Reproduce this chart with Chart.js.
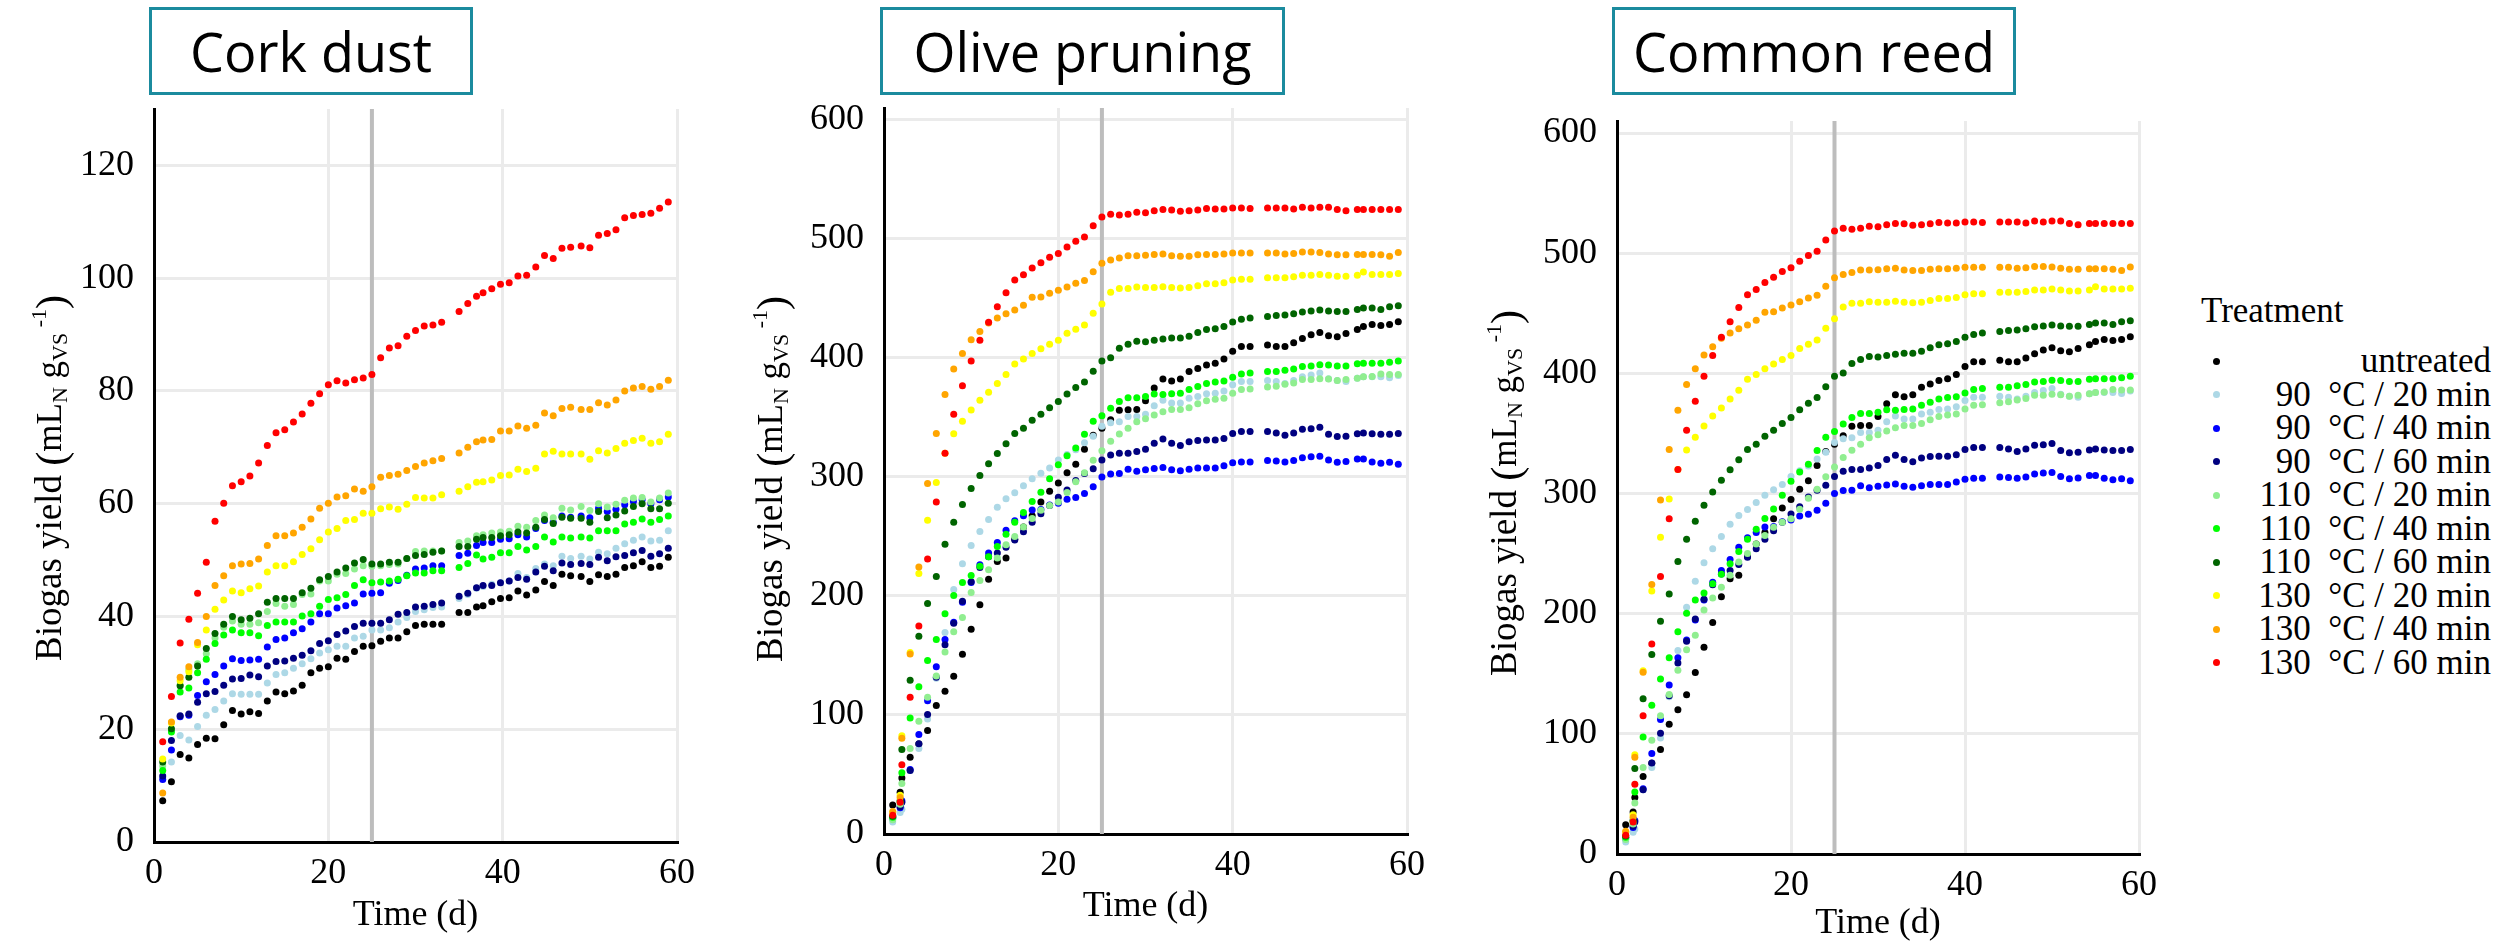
<!DOCTYPE html>
<html>
<head>
<meta charset="utf-8">
<script src="https://cdn.jsdelivr.net/npm/chart.js"></script>
<style>
html,body{margin:0;padding:0;background:#fff;}
body{width:2504px;height:947px;overflow:hidden;position:relative;}
canvas{position:absolute;top:0;}
.tbox{position:absolute;top:7px;height:88px;box-sizing:border-box;border:3px solid #1b8b9e;
  font-family:"Open Sans",sans-serif;font-size:54px;color:#000;display:flex;align-items:center;justify-content:center;}
.lg{position:absolute;font-family:"Liberation Serif",serif;color:#000;white-space:pre;}
.dot{position:absolute;width:7px;height:7px;border-radius:50%;}
</style>
</head>
<body>
<div class="tbox" style="left:149px;width:324px;">Cork dust</div>
<div class="tbox" style="left:880px;width:405px;">Olive pruning</div>
<div class="tbox" style="left:1612px;width:404px;">Common reed</div>
<canvas id="c1" width="720" height="947" style="left:0px"></canvas>
<canvas id="c2" width="730" height="947" style="left:720px"></canvas>
<canvas id="c3" width="730" height="947" style="left:1450px"></canvas>
<div id="legend"></div>
<script>
// ---------- labels & colours ----------
const treatmentLabels = ['untreated','90  °C / 20 min','90  °C / 40 min','90  °C / 60 min','110  °C / 20 min','110  °C / 40 min','110  °C / 60 min','130  °C / 20 min','130  °C / 40 min','130  °C / 60 min'];
const seriesColors = ['#000000','#add8e6','#0000ff','#000080','#90ee90','#00ff00','#006400','#ffff00','#ffa500','#ff0000'];
const xTickValues = [0,20,40,60];
const corkYTickValues = [0,20,40,60,80,100,120];
const oliveYTickValues = [0,100,200,300,400,500,600];
const reedYTickValues = [0,100,200,300,400,500,600];
const refDay = 25;

// ---------- Cork dust ----------
const corkDays = [1,2,3,4,5,6,7,8,9,10,11,12,13,14,15,16,17,18,19,20,21,22,23,24,25,26,27,28,29,30,31,32,33,35,36,37,37.75,38.75,39.75,40.75,41.75,42.75,43.8,44.8,45.8,46.8,47.8,49,50,51,52,53,54,55,56,57,58,59];
const corkUntreated = [7.3,10.7,15.5,14.9,17.3,18.4,18.3,20.8,23.3,22.7, 23.1,22.8,25.0,26.6,26.3,26.8,27.8,30.0,30.8,31.1, 32.6,32.4,33.8,34.7,34.8,35.6,36.2,36.2,37.3,38.4, 38.6,38.6,38.6, 40.7,40.7,41.7, 41.9,42.6,43.2,43.3,44.5,43.8, 44.7,46.2,45.5,47.5,47.2, 47.1,46.2,47.4,47.1,47.5,48.7,49.0,49.7,48.7,48.9,50.5];
const cork90_20 = [11.5,14.2,18.9,18.1,20.5,22.5,23.5,25.0,26.3,26.2, 26.2,26.2,28.2,29.7,30.0,30.8,31.6,32.5,33.5,34.1, 34.7,34.7,36.2,36.5,37.6,37.6,38.0,39.0,39.8,40.9, 41.2,41.6,41.7, 43.2,43.9,45.0, 45.3,45.7,46.0,46.3,47.6,46.9, 48.5,49.3,49.0,50.7,50.3, 50.7,50.2,51.4,51.1,52.1,52.9,53.5,54.1,53.4,53.5,55.2];
const cork90_40 = [11.1,16.3,22.2,22.5,26.0,28.4,29.7,31.2,32.5,32.2, 32.3,32.4,34.6,35.9,36.2,37.1,37.8,39.0,40.5,40.5, 41.5,41.9,42.4,44.0,44.1,44.2,45.9,46.4,47.3,48.4, 48.6,49.0,49.0, 50.8,51.2,52.6, 53.1,53.1,53.7,53.8,54.5,54.1, 55.6,57.0,56.7,57.8,57.6, 57.8,57.5,59.2,58.6,59.0,59.8,60.4,60.7,60.0,60.7,61.2];
const cork90_60 = [11.7,18.0,22.4,22.7,24.8,26.3,26.7,27.8,28.9,29.0, 29.6,29.3,31.2,32.0,32.1,32.6,33.1,33.9,35.2,35.7, 36.8,37.4,38.2,38.8,38.8,38.8,39.4,40.4,40.7,41.7, 41.8,42.1,42.4, 43.6,44.1,45.1, 45.5,45.5,46.0,46.3,46.9,46.6, 47.9,48.9,48.1,49.5,49.2, 49.4,49.2,50.5,49.9,50.6,50.8,51.3,51.7,50.7,51.1,52.1];
const cork110_20 = [13.5,19.9,27.8,30.6,31.6,33.4,36.2,38.1,39.2,38.6, 38.6,38.9,40.9,42.3,41.8,42.1,43.9,44.0,46.3,46.3, 47.5,47.6,48.4,49.0,48.9,49.0,49.2,49.3,50.3,51.5, 51.6,51.6,51.6, 53.1,53.4,54.3, 54.5,54.8,55.0,55.1,56.0,55.8, 57.0,58.0,57.5,59.2,58.9, 59.5,58.8,60.0,59.4,59.9,60.6,61.0,61.1,60.3,61.0,61.9];
const cork110_40 = [12.7,19.5,26.6,27.3,30.0,32.4,35.2,36.7,37.6,37.1, 37.1,36.6,38.4,39.0,39.0,39.0,40.1,40.5,41.8,43.0, 43.3,43.9,45.5,46.5,46.0,46.1,46.3,46.6,47.2,47.7, 47.7,48.1,48.1, 48.7,49.4,50.9, 50.2,50.5,51.3,51.3,52.4,51.8, 52.4,54.1,53.2,54.1,53.9, 54.1,53.9,55.2,55.2,55.2,56.4,56.7,57.3,56.7,57.2,57.8];
const cork110_60 = [14.2,20.1,27.7,29.2,31.2,34.3,37.0,38.6,40.0,39.4, 39.7,40.5,42.5,43.2,43.2,43.2,44.2,45.0,46.5,47.1, 47.9,48.6,49.5,50.1,49.3,49.3,49.6,49.6,50.3,50.8, 51.0,51.4,51.6, 52.4,52.4,53.7, 54.0,54.0,54.3,54.5,55.0,54.8, 55.8,57.2,56.5,57.6,57.4, 57.4,56.7,58.6,57.5,58.0,58.7,59.5,60.0,59.1,59.1,60.1];
const cork130_20 = [14.7,21.1,28.6,30.2,35.0,37.6,41.3,42.9,44.5,44.2, 44.9,45.4,47.9,49.0,49.0,49.7,51.0,52.0,53.6,55.0, 55.6,57.0,57.2,58.3,58.3,59.1,59.4,59.0,59.9,61.1, 61.0,61.0,61.6, 62.2,63.0,63.8, 63.9,64.2,65.0,65.1,66.1,65.7, 66.3,68.8,69.3,68.8,68.8, 68.8,67.9,69.4,69.0,69.8,70.7,71.2,71.6,70.7,71.0,72.3];
const cork130_40 = [8.7,21.3,29.2,31.1,35.4,40.0,45.5,47.2,49.0,49.3, 49.4,50.2,52.6,54.3,54.3,54.8,55.8,57.3,59.2,60.1, 61.2,61.4,62.6,62.2,63.0,64.7,65.0,65.2,65.9,66.6, 67.2,67.6,68.0, 69.0,70.0,71.0, 71.3,71.4,72.9,72.9,73.8,73.4, 73.9,76.1,75.6,76.9,77.1, 76.7,76.7,77.9,77.5,78.4,80.0,80.5,80.8,80.3,80.8,81.9];
const cork130_60 = [17.8,25.8,35.3,39.5,44.1,49.6,56.9,60.1,63.2,63.9, 64.9,67.2,70.3,72.6,73.1,74.5,75.9,77.8,79.5,81.1, 81.8,81.4,82.0,82.3,82.9,85.9,87.6,88.0,89.7,90.7, 91.5,91.7,92.2, 94.1,95.5,96.8, 97.4,98.1,98.9,99.2,100.4,100.5, 102.0,104.0,103.5,105.3,105.5, 105.7,105.4,107.6,107.9,108.6,110.7,111.1,111.3,111.5,112.4,113.5];
const corkYMax = 130;

// ---------- Olive pruning (the Common reed panel shows the same values) ----------
const oliveDays = [1,1.85,2.05,3,4,5,6,7,8,9,10,11,12,13,14,15,16,17,18,19,20,21,22,23,24,25,26,27,28,29,30,31,32,33,34,35,36,37,38,39,40,41,42,44,45,46,47,48,49,50,51,52,53,54.3,55,56,57,58,59];
const oliveUntreated = [24.4,35,47, 64.5,75.6,87,108,120,132.6,151,172,192.6,214, 229,232,247.6,258,267.5,279,288,295,303.6,310.7, 323.3,335,341,348,356,356.5,356.6, 364,374.7,382.2,380.6,382.2,388.5,391.2,394,395.5,399,405.7,409.7,409.7, 410.9,409.7,409.7,412.8,416.3,419.5,421.4,418.7,417.9,420.6, 423.8, 426.5,428.1,427.3,428.1,430.5];
const olive90_20 = [10,18,20.8, 53.4,71.9,96.6,130.8,169.3,205.4,227,242.3,254.1,264.3, 274.5,281.6,286.7,292.6,298.5,303.2,307.5,314.2,318.9,322.9, 328.8,334.3,342.5,345.6,346.4,350.7,350.7, 352.7,359.8,364.5,362.1,362.1,366.1,367.6,370,370.4,372.3,377.5,380.2,380.2, 381,380.2,378.6,381,384.1,385.7,387.3,382.6,381,380.2, 383, 384.1,384.1,384.1,383.3,385.3];
const olive90_40 = [13,22,27.9, 54.2,83.7,112,140.6,163.4,178,194.8,211.3,226.2,236, 245,255.3,263.2,267.5,272.2,272.6,276.5,278,281.2,282.8, 286,291.8,300,302.4,302.8,306.4,304.8, 306,307.1,307.9,306,305.2,306.4,307.5,307.5,307.5,309.5,311.9,312.6,312.6, 313.8,313.4,312.6,313.8,316.2,317,317.4,314.2,312.3,313, 315, 315,312.6,311.5,312.3,310.7];
const olive90_60 = [14,23,26.7, 53.4,75.8,100.5,131.6,159,177,195.6,212,224,233, 236,241,247,254,262,269,276,283,289,297, 302.8,306.8,314.2,318.5,320,320,321.3, 323.3,328.4,331.9,328.4,326.4,329.5,330.7,331.1,331.1,332.3,336.6,338.2,338.2, 338.2,337,335,337,340.1,340.5,341.7,335.8,333.9,334.3, 336.2, 337,336.2,335.8,335.8,336.6];
const olive110_20 = [12,25,42.4, 71.9,94.7,115,132.8,153,170,182,203,213,222, 232,243,250,258,265,272,276,279,287,296, 303.6,314,322,330,336,341,346.4, 348.8,352,354.7,356.6,356.6,358.2,361.4,364.1,365.3,366.1,370.4,373.5,373.9, 375.5,376.3,377.8,379,381.8,381.8,382.6,382.2,381,381.8, 383, 384.1,384.5,386.5,386.1,386.1];
const olive110_40 = [14,27,51.5, 97.4,123.7,145.7,163.4,185,200.3,211.3,217.2,225,232.9, 241.6,251.8,262,270.2,279.3,287.1,298.5,310.3,317.8,324.4, 335.8,346.8,351.5,357.8,363.3,366.5,366.5, 367.6,369.6,369.2,370,370.4,373.5,375.9,378.6,379.8,380.6,383.7,386.5,387.3, 388.5,388.5,389.6,390.8,392.8,393.2,394.3,394,393.2,393.2, 395.1, 395.5,395.5,395.5,396.3,397.5];
const olive110_60 = [15,28,71.1, 129.2,166.1,193.6,216.4,243.5,262,276.9,290.3,301.3,311.1, 319.7,328,336.6,340.9,347.6,352.7,358.2,363.3,369.6,375.1, 379.8,388.8,397.5,400.2,408.1,411.6,414, 413.6,414.8,415.9,416.7,416.7,418.3,421.4,423.8,424.6,426.5,430.1,432.4,433.6, 434.8,435.6,436,437.1,438.7,439.5,440.3,439.5,439.1,439.1, 440.7, 441.9,441.9,440.7,443,443.8];
const olive130_20 = [18,32.6,82.5, 152.4,218.8,263.6,295.4,320,336.2,346.8,356.2,364.5,371.2, 378.6,386,395,399,403.8,407.7,411.6,414.8,420.7,424.2, 427.7,437.5,445.4,455.2,458.4,458.4,459.5, 459.2,459.2,459.9,459.2,458.8,459.2,460.7,462.3,462.3,463.1,465.4,466.2,466.2, 467.4,467.4,467.4,468.2,469.4,469.4,470.1,469.4,468.6,468.6, 469.4, 472.1,470.1,470.1,470.1,470.9];
const olive130_40 = [18.9,30.6,80.5, 151.2,224.3,294.6,336.6,369.2,390.8,403.8,415.2,422.2,429.3, 433.6,437.2,440.3,444.2,450.9,451.3,454.4,456.8,459.5,462.7, 465,472.5,479.6,482.3,483.9,485.9,485.9, 486.3,487,487.4,485.9,485.5,485.5,486.6,487,487,487.4,488.2,488.2,488.2, 488.2,488.2,487.4,487.8,489,489,488.6,487.4,486.6,486.6, 487, 487,487,486.6,485.5,488.6];
const olive130_60 = [15.7,26.7,58.1, 115,174.8,231,279,320,352.7,376.7,397.5,414.8,430, 443,454.8,465.4,469.8,475.6,480,484.7,487.8,493.3,498, 501.6,511,518.5,520.8,520,520.8,522.4, 522,523.6,524.7,524.4,523.2,523.6,524.4,525.5,525.1,525.1,525.9,525.9,525.5, 525.9,525.9,525.9,525.1,526.7,525.9,526.7,526.7,524.7,523.6, 524.7, 524.7,524.7,524.7,524.7,524.7];
const oliveYMax = 610;

const reedDays = oliveDays;
const reedYMax = 610;

const corkSeries = [corkUntreated,cork90_20,cork90_40,cork90_60,cork110_20,cork110_40,cork110_60,cork130_20,cork130_40,cork130_60];
const oliveSeries = [oliveUntreated,olive90_20,olive90_40,olive90_60,olive110_20,olive110_40,olive110_60,olive130_20,olive130_40,olive130_60];
const reedSeries = oliveSeries;

// ---------- drawing ----------
const SERIF = "'Liberation Serif', 'Times New Roman', serif";
Chart.defaults.font.family = SERIF;
Chart.defaults.color = '#000';

const yTitlePlugin = {
  id: 'ytitle',
  afterDraw(chart, args, opts) {
    const ctx = chart.ctx;
    const segs = [['Biogas yield ',37,0],['(',42,4],['mL',35,0],['N',22,6],[' g',35,0],['VS',22,6],[' ',22,0],['-1',22,-15],[')',42,4]];
    ctx.save();
    let total = 0;
    const widths = segs.map(s => { ctx.font = s[1] + 'px ' + SERIF; const w = ctx.measureText(s[0]).width; total += w; return w; });
    ctx.translate(opts.x, opts.y);
    ctx.rotate(-Math.PI / 2);
    ctx.fillStyle = '#000';
    ctx.textBaseline = 'alphabetic';
    ctx.textAlign = 'left';
    let x = -total / 2;
    segs.forEach((s, i) => { ctx.font = s[1] + 'px ' + SERIF; ctx.fillText(s[0], x, s[2]); x += widths[i]; });
    ctx.restore();
  }
};

function makeChart(id, days, series, yMax, yTicks, L) {
  const datasets = series.map((vals, i) => ({
    label: treatmentLabels[i],
    data: days.map((d, j) => ({x: d, y: vals[j]})),
    backgroundColor: seriesColors[i],
    borderColor: seriesColors[i],
    pointRadius: 3.5, pointHoverRadius: 3.5, pointBorderWidth: 0,
    showLine: false,
    order: 20 - i
  }));
  datasets.push({
    label: 'ref',
    data: [{x: refDay, y: 0}, {x: refDay, y: yMax}],
    showLine: true, borderColor: '#bdbdbd', borderWidth: 4, pointRadius: 0, order: 100
  });
  const tickFont = {family: SERIF, size: 36, style: 'normal', weight: 'normal'};
  return new Chart(document.getElementById(id), {
    type: 'scatter',
    data: {datasets},
    options: {
      responsive: false, animation: false, devicePixelRatio: 1,
      font: {family: SERIF},
      layout: {padding: {left: 0, right: L.padRight, top: L.top, bottom: 0}},
      plugins: {legend: {display: false}, tooltip: {enabled: false}, ytitle: {x: L.tx, y: L.ty}},
      scales: {
        x: {
          type: 'linear', min: 0, max: 60,
          afterBuildTicks: s => { s.ticks = xTickValues.map(v => ({value: v})); },
          ticks: {padding: 10, color: '#000', font: tickFont, maxRotation: 0},
          grid: {color: '#ebebeb', lineWidth: 3, drawTicks: false},
          border: {display: true, color: '#000', width: 3},
          title: {display: true, text: 'Time (d)', color: '#000', font: {family: SERIF, size: 36}, padding: {top: 0, bottom: L.titlePad}},
          afterFit: s => { s.height = L.xH; }
        },
        y: {
          type: 'linear', min: 0, max: yMax,
          afterBuildTicks: s => { s.ticks = yTicks.map(v => ({value: v})); },
          ticks: {padding: 20, color: '#000', font: tickFont},
          grid: {color: '#ebebeb', lineWidth: 3, drawTicks: false},
          border: {display: true, color: '#000', width: 3},
          afterFit: s => { s.width = L.yW; }
        }
      }
    },
    plugins: [yTitlePlugin]
  });
}

makeChart('c1', corkDays, corkSeries, corkYMax, corkYTickValues, {yW: 154, padRight: 43, top: 109, xH: 947 - 842, titlePad: 10, tx: 61, ty: 478});
makeChart('c2', oliveDays, oliveSeries, oliveYMax, oliveYTickValues, {yW: 164, padRight: 43, top: 108, xH: 947 - 834, titlePad: 19, tx: 62, ty: 479});
makeChart('c3', reedDays, reedSeries, reedYMax, reedYTickValues, {yW: 167, padRight: 41, top: 121, xH: 947 - 854, titlePad: 2, tx: 66, ty: 493});

// ---------- legend ----------
const lg = document.getElementById('legend');
const head = document.createElement('div');
head.className = 'lg';
head.style.cssText = 'left:2201px;top:290px;font-size:35px;line-height:42px;';
head.textContent = 'Treatment';
lg.appendChild(head);
treatmentLabels.forEach((t, i) => {
  const cy = 361 + 33.5 * i;
  const dot = document.createElement('div');
  dot.className = 'dot';
  dot.style.cssText = `left:2212.5px;top:${cy - 3.5}px;background:${seriesColors[i]};`;
  lg.appendChild(dot);
  const tx = document.createElement('div');
  tx.className = 'lg';
  tx.style.cssText = `right:13px;top:${cy - 20}px;font-size:35px;line-height:40px;text-align:right;`;
  tx.textContent = t;
  lg.appendChild(tx);
});
</script>
</body>
</html>
